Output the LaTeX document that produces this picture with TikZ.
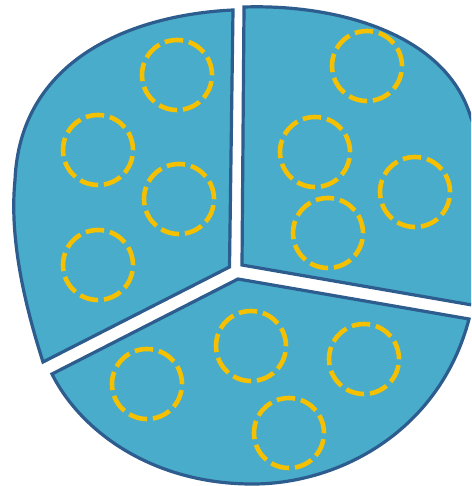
\documentclass[tikz,border=0pt]{standalone}
\definecolor{piefill}{RGB}{73,172,202}
\definecolor{pieline}{RGB}{45,92,142}
\definecolor{ringcol}{RGB}{245,192,0}
\tikzset{
  piece/.style={fill=piefill, draw=pieline, line width=3.2pt, line join=miter},
  ring/.style={circle, draw=ringcol, line width=4.6pt, minimum size=70pt, inner sep=0pt,
    dash pattern=on 18.5pt off 5.9pt}
}
\begin{document}
\begin{tikzpicture}[x=1pt,y=-1pt]
\useasboundingbox (0,0) rectangle (471,486);
\clip (0,0) rectangle (471,486);
% left piece
\draw[piece] (233,10) -- (229.5,267) -- (43,362)
  .. controls (20,290) and (10,230) .. (15,180)
  .. controls (20,60) and (130,15) .. cycle;
% right piece
\draw[piece] (244,7) -- (242,265) -- (472,305)
  .. controls (492,240) and (490,160) .. (471,118)
  .. controls (447,35) and (340,4) .. cycle;
% bottom piece
\draw[piece] (52,374) -- (238,279) -- (469,319)
  .. controls (440,430) and (340,485) .. (250,484)
  .. controls (150,483) and (80,430) .. cycle;
% rings, left piece
\node[ring] (l1) at (177,75) {};
\node[ring] (l2) at (98,150) {};
\node[ring] (l3) at (179,199) {};
\node[ring] (l4) at (98,265) {};
% rings, right piece
\node[ring] (r1) at (367,66) {};
\node[ring] (r2) at (315,152) {};
\node[ring] (r3) at (415,192) {};
\node[ring] (r4) at (328,233) {};
% rings, bottom piece
\node[ring] (b1) at (147,384) {};
\node[ring] (b2) at (251,346) {};
\node[ring] (b3) at (364,359) {};
\node[ring] (b4) at (289,433) {};
\end{tikzpicture}
\end{document}
